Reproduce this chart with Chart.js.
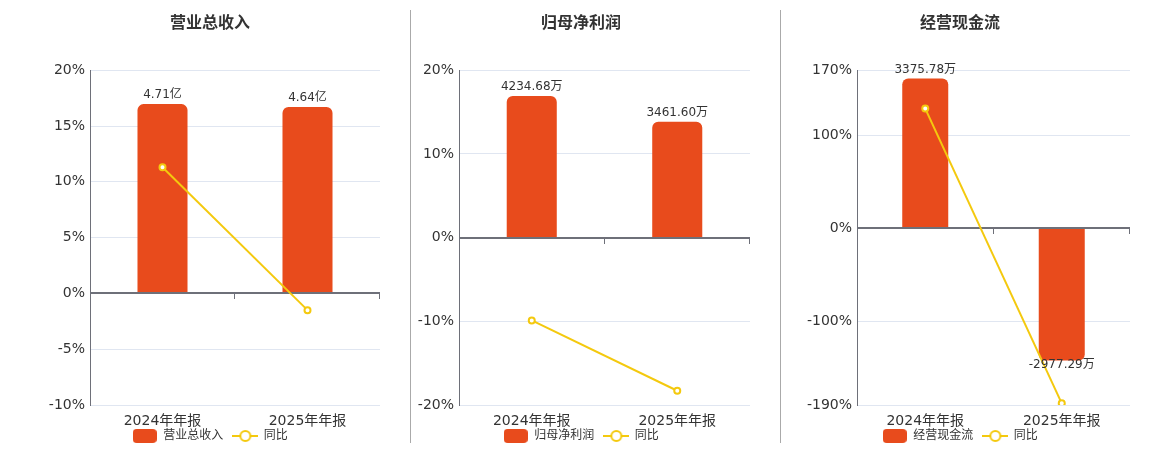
<!DOCTYPE html>
<html>
<head>
<meta charset="utf-8">
<script src="https://cdn.jsdelivr.net/npm/chart.js@4.4.1/dist/chart.umd.min.js"></script>
<style>
  body { margin: 0; background: #fff; }
  #wrap { position: relative; width: 1160px; height: 450px; overflow: hidden; }
  .panel { position: absolute; top: 0; height: 450px; }
  .sep { position: absolute; top: 10px; width: 1px; height: 433px; background: #aaa; }
</style>
</head>
<body>
<div id="wrap">
  <div class="panel" style="left:40px;width:340px"><canvas id="c1"></canvas></div>
  <div class="sep" style="left:410px"></div>
  <div class="panel" style="left:412px;width:338px"><canvas id="c2"></canvas></div>
  <div class="sep" style="left:780px"></div>
  <div class="panel" style="left:790px;width:340px"><canvas id="c3"></canvas></div>
</div>
<script>
// data
var categories = ['2024年年报', '2025年年报'];

var revenueValues = [4.71, 4.64];
var revenueLabels = ['4.71亿', '4.64亿'];
var revenueYoy = [11.3, -1.5];
var revenueTicks = [20, 15, 10, 5, 0, -5, -10];

var profitValues = [4234.68, 3461.60];
var profitLabels = ['4234.68万', '3461.60万'];
var profitYoy = [-9.9, -18.3];
var profitTicks = [20, 10, 0, -10, -20];

var cashValues = [3375.78, -2977.29];
var cashLabels = ['3375.78万', '-2977.29万'];
var cashYoy = [128.7, -188.2];
var cashTicks = [170, 100, 0, -100, -190];

var FONT = '"DejaVu Sans", "Noto Sans CJK SC", sans-serif';
var BAR = '#E84B1C';
var LINE = '#F4C90E';
var AXIS = '#6E7079';

function barSwatch() {
  var c = document.createElement('canvas');
  c.width = 24; c.height = 14;
  var x = c.getContext('2d');
  x.fillStyle = BAR;
  x.beginPath();
  x.roundRect(0, 0, 24, 14, 4);
  x.fill();
  return c;
}

function lineSwatch() {
  var c = document.createElement('canvas');
  c.width = 26; c.height = 14;
  var x = c.getContext('2d');
  x.strokeStyle = LINE;
  x.lineWidth = 2;
  x.beginPath(); x.moveTo(0, 7); x.lineTo(26, 7); x.stroke();
  x.beginPath(); x.arc(13, 7, 5, 0, Math.PI * 2);
  x.fillStyle = '#fff'; x.fill(); x.stroke();
  return c;
}

// dark zero line with small ticks, drawn over the bars but under the line
var zeroLine = {
  id: 'zeroLine',
  afterDatasetDraw: function (chart, args) {
    if (args.index !== 0) return;
    var a = chart.chartArea, ctx = chart.ctx;
    var y0 = Math.round(chart.scales.y.getPixelForValue(0));
    var n = chart.data.labels.length;
    ctx.save();
    ctx.strokeStyle = AXIS;
    ctx.lineWidth = 2;
    ctx.beginPath(); ctx.moveTo(a.left, y0); ctx.lineTo(a.right, y0); ctx.stroke();
    ctx.lineWidth = 1;
    for (var k = 1; k <= n; k++) {
      var x = Math.round(a.left + (a.right - a.left) * k / n) - 0.5;
      ctx.beginPath(); ctx.moveTo(x, y0); ctx.lineTo(x, y0 + 6); ctx.stroke();
    }
    ctx.restore();
  }
};

var barLabels = {
  id: 'barLabels',
  afterDatasetsDraw: function (chart, args, opts) {
    var ctx = chart.ctx;
    var meta = chart.getDatasetMeta(0);
    ctx.save();
    ctx.font = '12px ' + FONT;
    ctx.fillStyle = '#333';
    ctx.textAlign = 'center';
    meta.data.forEach(function (el, i) {
      var v = chart.data.datasets[0].data[i];
      if (v >= 0) {
        ctx.textBaseline = 'bottom';
        ctx.fillText(opts.texts[i], el.x, el.y - 3);
      } else {
        ctx.textBaseline = 'middle';
        ctx.fillText(opts.texts[i], el.x, el.y + 4);
      }
    });
    ctx.restore();
  }
};

function makeChart(id, name, values, texts, yoy, ticks, barMin, barMax, axisWidth, barPct) {
  var bars = barSwatch(), line = lineSwatch();
  return new Chart(document.getElementById(id), {
    type: 'bar',
    data: {
      labels: categories,
      datasets: [
        {
          type: 'bar',
          label: name,
          data: values,
          yAxisID: 'y2',
          backgroundColor: BAR,
          borderRadius: 6,
          borderSkipped: 'start',
          categoryPercentage: 1,
          barPercentage: barPct,
          order: 1
        },
        {
          type: 'line',
          label: '同比',
          data: yoy,
          yAxisID: 'y',
          borderColor: LINE,
          borderWidth: 2,
          pointRadius: 3,
          pointBorderWidth: 2,
          pointBackgroundColor: '#fff',
          pointBorderColor: LINE,
          tension: 0,
          order: 0
        }
      ]
    },
    options: {
      responsive: true,
      maintainAspectRatio: false,
      animation: false,
      layout: { autoPadding: false, padding: { left: 0, right: 0, top: 0, bottom: -2 } },
      plugins: {
        title: {
          display: true,
          text: name,
          color: '#333',
          font: { family: FONT, size: 16, weight: 'bold' },
          padding: { top: 14, bottom: 37 }
        },
        legend: {
          position: 'bottom',
          labels: {
            usePointStyle: true,
            pointStyleWidth: 25,
            padding: 2,
            color: '#333',
            font: { family: FONT, size: 12 },
            generateLabels: function () {
              return [
                { text: name + '  ', pointStyle: bars, datasetIndex: 0, lineWidth: 0, strokeStyle: 'transparent', fillStyle: BAR, fontColor: '#333' },
                { text: '同比', pointStyle: line, datasetIndex: 1, lineWidth: 0, strokeStyle: 'transparent', fillStyle: LINE, fontColor: '#333' }
              ];
            }
          }
        },
        tooltip: { enabled: false },
        barLabels: { texts: texts }
      },
      scales: {
        x: {
          grid: { display: false, drawTicks: false },
          border: { display: false },
          ticks: { color: '#333', padding: 8, font: { family: FONT, size: 14 }, maxRotation: 0 },
          afterFit: function (s) { s.height = 23; s.paddingLeft = 0; s.paddingRight = 0; }
        },
        y: {
          position: 'left',
          min: ticks[ticks.length - 1],
          max: ticks[0],
          afterBuildTicks: function (s) { s.ticks = ticks.map(function (v) { return { value: v }; }); },
          grid: {
            drawTicks: false,
            color: function (c) { return c.tick && c.tick.value === 0 ? 'rgba(0,0,0,0)' : '#E0E6F1'; }
          },
          border: { display: true, color: AXIS, width: 1 },
          ticks: {
            color: '#333',
            padding: 5,
            font: { family: FONT, size: 14 },
            callback: function (v) { return v + '%'; }
          },
          afterFit: function (s) { s.width = axisWidth; }
        },
        y2: {
          display: false,
          min: barMin,
          max: barMax
        }
      }
    },
    plugins: [zeroLine, barLabels]
  });
}

makeChart('c1', '营业总收入', revenueValues, revenueLabels, revenueYoy, revenueTicks, -2.777, 5.554, 50, 0.345);
makeChart('c2', '归母净利润', profitValues, profitLabels, profitYoy, profitTicks, -5003, 5003, 47, 0.344);
makeChart('c3', '经营现金流', cashValues, cashLabels, cashYoy, cashTicks, -3981, 3562, 67, 0.337);
</script>
</body>
</html>
